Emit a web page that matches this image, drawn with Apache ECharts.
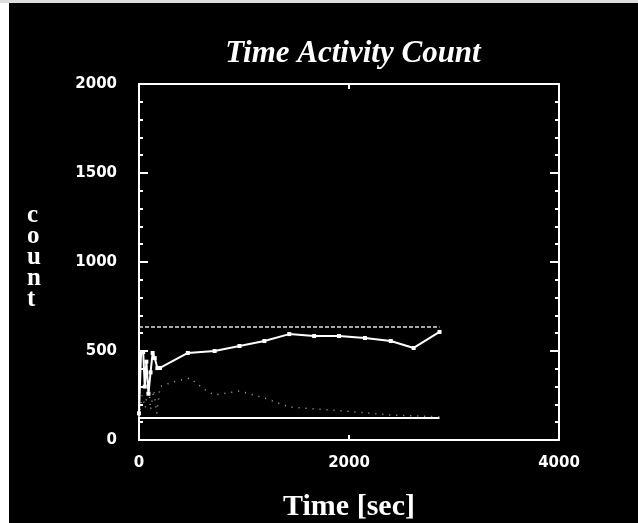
<!DOCTYPE html>
<html>
<head>
<meta charset="utf-8">
<script src="https://cdn.jsdelivr.net/npm/echarts@6/dist/echarts.min.js"></script>
<style>
  html, body { margin: 0; padding: 0; background: #000; }
  #chart { width: 638px; height: 523px; }
</style>
</head>
<body>
<div id="chart"></div>
<script>
// main TAC curve (solid, square markers)
var mainTime  = [0, 20, 40, 55, 70, 90, 110, 130, 150, 175, 200, 465, 720, 957, 1194, 1431, 1668, 1905, 2152, 2398, 2616, 2862];
var mainCount = [150, 494, 494, 300, 440, 260, 380, 489, 460, 404, 405, 489, 500, 528, 556, 595, 584, 584, 573, 556, 517, 607];

// second TAC curve (faint dots)
var lowTime  = [0, 30, 60, 90, 110, 140, 170, 200, 322, 483, 645, 720, 957, 1194, 1431, 1953, 2400, 2862];
var lowCount = [130, 250, 180, 330, 170, 280, 150, 300, 326, 348, 275, 253, 275, 236, 185, 163, 140, 130];

// flat reference levels
var levelTime  = [0, 2862];
var upperLevel = [635, 635];
var lowerLevel = [124, 124];

var xTicks = [0, 2000, 4000];
var yTicks = [0, 500, 1000, 1500, 2000];

function pairs(xs, ys) {
    var out = [];
    for (var i = 0; i < xs.length; i++) out.push([xs[i], ys[i]]);
    return out;
}

var chart = echarts.init(document.getElementById('chart'));

var axisLine = { show: true, onZero: false, lineStyle: { color: '#fff', width: 2 } };
var labelStyle = {
    color: '#fff', fontFamily: 'DejaVu Sans', fontWeight: 'bold', fontSize: 15,
    formatter: function (v) { return String(v); }
};

chart.setOption({
    backgroundColor: '#000',
    animation: false,
    title: {
        text: 'Time Activity Count',
        left: 348, top: 33, textAlign: 'center',
        textStyle: { color: '#fff', fontFamily: 'Liberation Serif', fontStyle: 'italic', fontWeight: 'bold', fontSize: 31 }
    },
    graphic: [
        { type: 'rect', left: 0, top: 0, shape: { width: 9, height: 523 }, style: { fill: '#fff' } },
        { type: 'rect', left: 0, top: 0, shape: { width: 638, height: 3 }, style: { fill: '#ddd' } },
        {
            type: 'text', left: 27, top: 203,
            style: {
                text: 'c\no\nu\nn\nt', fill: '#fff', align: 'center',
                font: 'bold 25px "Liberation Serif"', lineHeight: 21
            }
        }
    ],
    grid: { left: 139, top: 84, right: 79, bottom: 83, containLabel: false, outerBoundsMode: 'none' },
    xAxis: [{
        type: 'value', position: 'bottom', min: xTicks[0], max: xTicks[xTicks.length - 1], interval: 2000,
        axisLine: axisLine,
        axisTick: { show: true, inside: true, length: 5, lineStyle: { color: '#fff', width: 2 } },
        axisLabel: Object.assign({ margin: 16 }, labelStyle),
        splitLine: { show: false },
        name: 'Time [sec]', nameLocation: 'middle', nameGap: 52,
        nameTextStyle: { color: '#fff', fontFamily: 'Liberation Serif', fontWeight: 'bold', fontSize: 30 }
    }, {
        type: 'value', position: 'top', min: 0, max: 4000, interval: 2000,
        axisLine: axisLine,
        axisTick: { show: true, inside: true, length: 5, lineStyle: { color: '#fff', width: 2 } },
        axisLabel: { show: false },
        splitLine: { show: false }
    }],
    yAxis: [{
        type: 'value', position: 'left', min: yTicks[0], max: yTicks[yTicks.length - 1], interval: 500,
        axisLine: axisLine,
        axisTick: { show: true, inside: true, length: 9, lineStyle: { color: '#fff', width: 2 } },
        minorTick: { show: true, splitNumber: 5, length: 4, lineStyle: { color: '#fff', width: 2 } },
        axisLabel: Object.assign({ margin: 22 }, labelStyle),
        splitLine: { show: false }
    }, {
        type: 'value', position: 'right', min: 0, max: 2000, interval: 500,
        axisLine: axisLine,
        axisTick: { show: true, inside: true, length: 9, lineStyle: { color: '#fff', width: 2 } },
        minorTick: { show: true, splitNumber: 5, length: 4, lineStyle: { color: '#fff', width: 2 } },
        axisLabel: { show: false },
        splitLine: { show: false }
    }],
    series: [{
        type: 'line', data: pairs(levelTime, upperLevel), symbol: 'none',
        lineStyle: { color: '#ddd', width: 1.5, type: [4, 2] }
    }, {
        type: 'line', data: pairs(levelTime, lowerLevel), symbol: 'none',
        lineStyle: { color: '#fff', width: 2 }
    }, {
        type: 'line', data: pairs(lowTime, lowCount), symbol: 'none',
        lineStyle: { color: '#aaa', width: 1.5, type: [1, 6] }
    }, {
        type: 'line', data: pairs(mainTime, mainCount),
        symbol: 'rect', symbolSize: 4,
        itemStyle: { color: '#fff' },
        lineStyle: { color: '#fff', width: 2 }
    }]
});
</script>
</body>
</html>
